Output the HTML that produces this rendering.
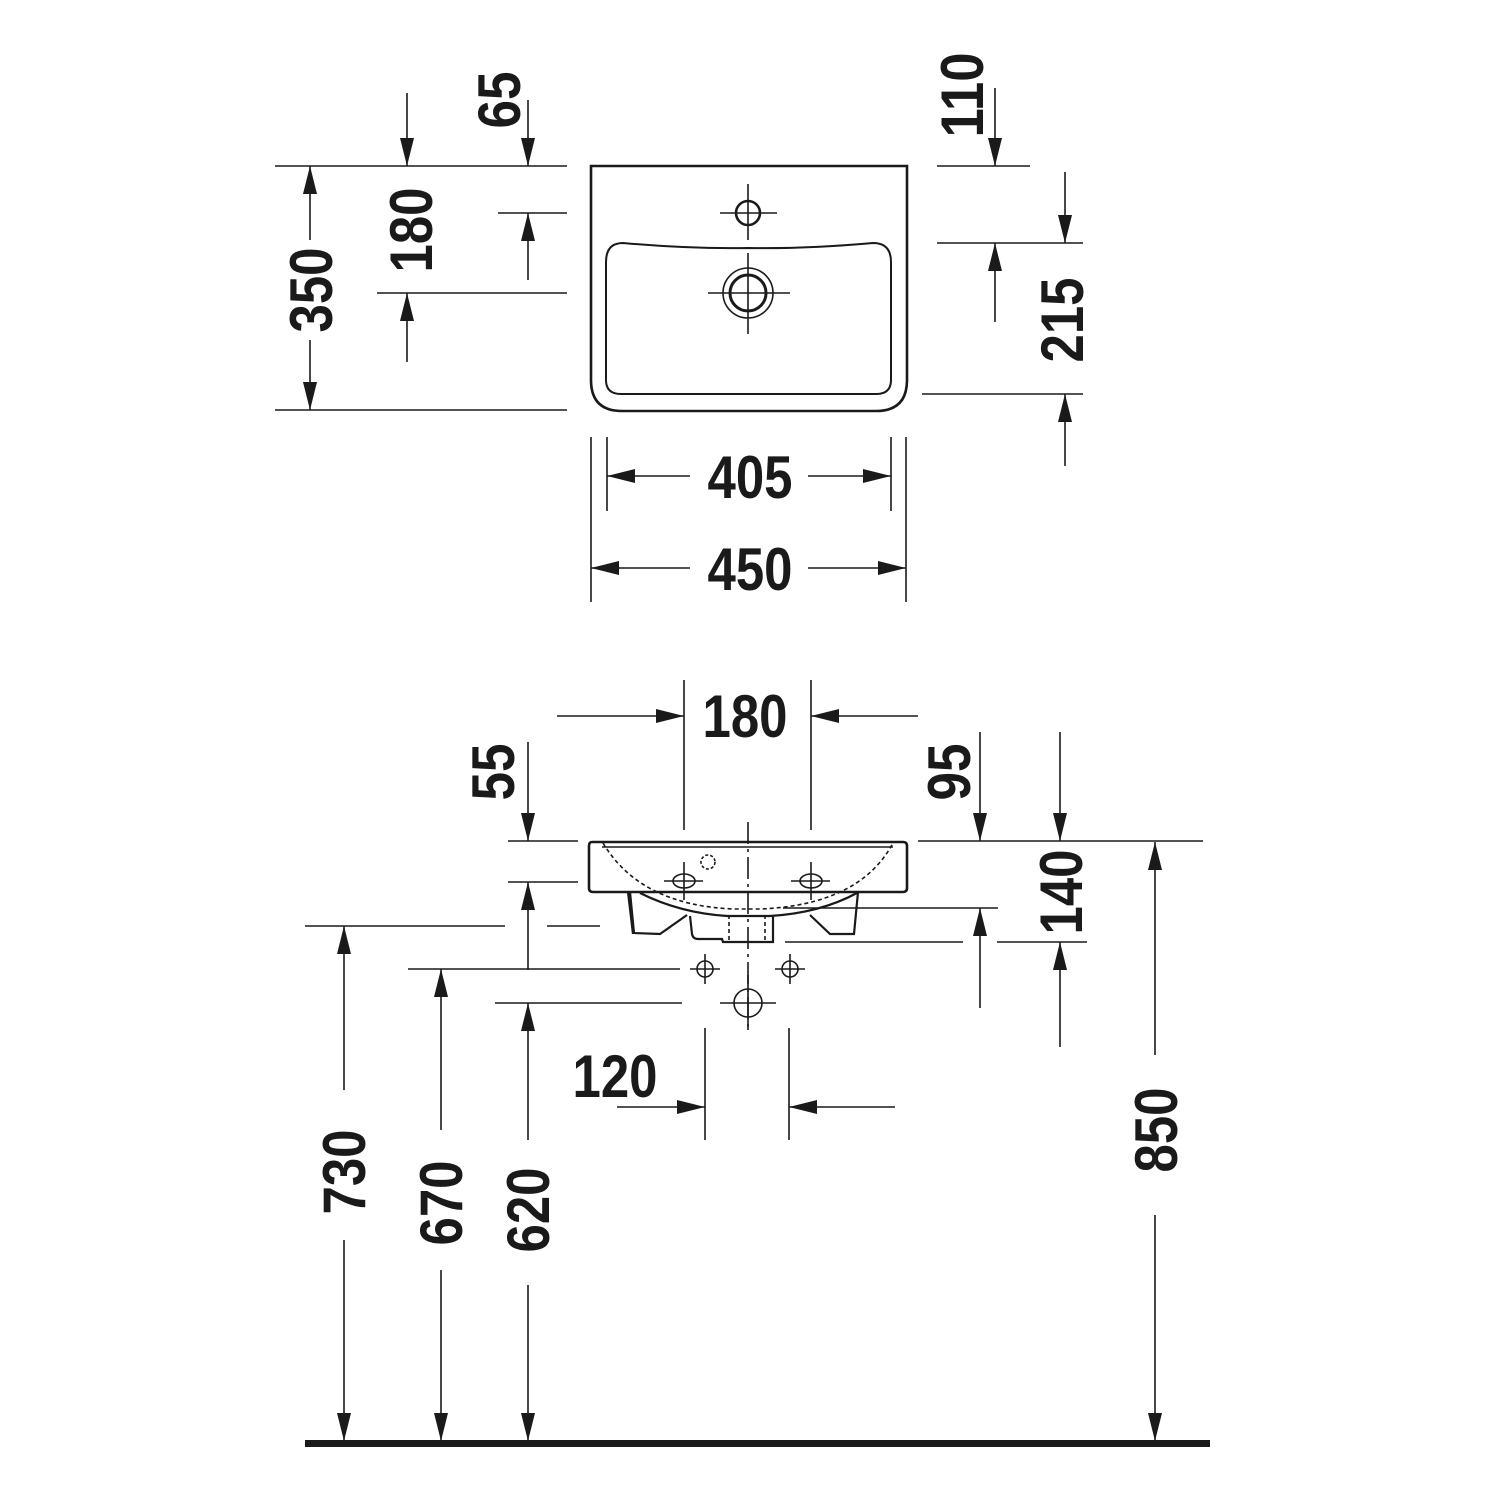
<!DOCTYPE html>
<html><head><meta charset="utf-8"><style>
html,body{margin:0;padding:0;background:#fff}
svg{display:block}
text{font-family:"Liberation Sans Narrow","Liberation Sans",sans-serif;font-weight:bold;font-size:60px;fill:#1a1a1a}
</style></head><body>
<svg width="1500" height="1500" viewBox="0 0 1500 1500" xmlns="http://www.w3.org/2000/svg">
<defs>
<marker id="a" markerUnits="userSpaceOnUse" markerWidth="30" markerHeight="16" refX="28" refY="7" orient="auto"><path d="M0,0 L28,7 L0,14 Z" fill="#1a1a1a"/></marker>
</defs>
<g stroke="#1a1a1a" stroke-width="1.6" fill="none">
<path d="M591,166 L907,166 L907,380 Q907,411 876,411 L622,411 Q591,411 591,380 Z" stroke-width="2.6"/>
<path d="M623,243 Q690,249 748,248 Q806,249 873,243 Q891,243 891,262 L891,380 Q891,394 876,394 L621,394 Q606,394 606,380 L606,262 Q606,243 623,243 Z" stroke-width="2"/>
<circle cx="748" cy="213" r="12" stroke-width="2.6"/>
<line x1="720" y1="213" x2="777" y2="213"/><line x1="748" y1="184" x2="748" y2="240"/>
<circle cx="748" cy="293" r="25"/><circle cx="748" cy="293" r="18" stroke-width="3"/>
<line x1="708" y1="293" x2="790" y2="293"/><line x1="748" y1="253" x2="748" y2="334"/>
<line x1="275" y1="166" x2="567" y2="166"/><line x1="275" y1="410" x2="567" y2="410"/>
<line x1="310" y1="240" x2="310" y2="166" marker-end="url(#a)"/>
<line x1="310" y1="340" x2="310" y2="410" marker-end="url(#a)"/>
<line x1="407" y1="93" x2="407" y2="166" marker-end="url(#a)"/>
<line x1="377" y1="293" x2="567" y2="293"/>
<line x1="407" y1="362" x2="407" y2="293" marker-end="url(#a)"/>
<line x1="528" y1="100" x2="528" y2="166" marker-end="url(#a)"/>
<line x1="498" y1="213" x2="567" y2="213"/>
<line x1="528" y1="280" x2="528" y2="213" marker-end="url(#a)"/>
<line x1="995" y1="88" x2="995" y2="166" marker-end="url(#a)"/>
<line x1="937" y1="166" x2="1030" y2="166"/>
<line x1="937" y1="243" x2="1083" y2="243"/>
<line x1="1065" y1="172" x2="1065" y2="243" marker-end="url(#a)"/>
<line x1="995" y1="322" x2="995" y2="243" marker-end="url(#a)"/>
<line x1="922" y1="394" x2="1083" y2="394"/>
<line x1="1065" y1="466" x2="1065" y2="394" marker-end="url(#a)"/>
<line x1="607" y1="437" x2="607" y2="511"/><line x1="891" y1="437" x2="891" y2="511"/>
<line x1="690" y1="476" x2="607" y2="476" marker-end="url(#a)"/>
<line x1="808" y1="476" x2="891" y2="476" marker-end="url(#a)"/>
<line x1="591" y1="437" x2="591" y2="602"/><line x1="906" y1="437" x2="906" y2="602"/>
<line x1="690" y1="568" x2="591" y2="568" marker-end="url(#a)"/>
<line x1="808" y1="568" x2="906" y2="568" marker-end="url(#a)"/>

<path d="M592,842 L903,842 Q907,842 907,846 L907,888 Q907,892 903,892 L593,892 Q589,892 589,888 L589,846 Q589,842 592,842 Z" stroke-width="2.6"/>
<line x1="602" y1="847" x2="893" y2="847"/>
<path d="M603,843 Q640,905 733,909 L760,909 Q860,905 893,843" stroke-dasharray="4,3"/>
<path d="M630,892 L634,933 L660,934 L687,915 M640,893 Q680,913 727,916 L770,916 Q820,913 857,893 M628,892 L633,934 M858,892 L854,934 L830,934 L810,915 M690,916 L692,934 Q693,939 698,939 L722,939 L723,942 L773,942 L773,916" stroke-width="2.2"/>
<line x1="729" y1="915" x2="729" y2="942" stroke-dasharray="4,3"/>
<line x1="765" y1="915" x2="765" y2="942" stroke-dasharray="4,3"/>
<line x1="748" y1="822" x2="748" y2="1030" stroke-dasharray="22,5,3,5"/>
<circle cx="708" cy="862" r="7" stroke-dasharray="3,2"/>
<ellipse cx="684" cy="881" rx="11" ry="7"/><line x1="664" y1="881" x2="703" y2="881"/><line x1="684" y1="862" x2="684" y2="900"/>
<ellipse cx="811" cy="881" rx="11" ry="7"/><line x1="791" y1="881" x2="830" y2="881"/><line x1="811" y1="862" x2="811" y2="900"/>
<circle cx="705" cy="969" r="8"/><line x1="690" y1="969" x2="720" y2="969"/><line x1="705" y1="954" x2="705" y2="984"/>
<circle cx="790" cy="969" r="8"/><line x1="775" y1="969" x2="805" y2="969"/><line x1="790" y1="954" x2="790" y2="984"/>
<circle cx="748" cy="1003" r="14"/><line x1="720" y1="1003" x2="776" y2="1003"/><line x1="748" y1="975" x2="748" y2="1030"/>
<line x1="684" y1="680" x2="684" y2="830"/><line x1="811" y1="680" x2="811" y2="830"/>
<line x1="557" y1="716" x2="684" y2="716" marker-end="url(#a)"/>
<line x1="918" y1="716" x2="811" y2="716" marker-end="url(#a)"/>
<line x1="528" y1="742" x2="528" y2="841" marker-end="url(#a)"/>
<line x1="508" y1="841" x2="578" y2="841"/><line x1="508" y1="882" x2="578" y2="882"/>
<line x1="528" y1="970" x2="528" y2="882" marker-end="url(#a)"/>
<line x1="980" y1="732" x2="980" y2="841" marker-end="url(#a)"/>
<line x1="1060" y1="732" x2="1060" y2="841" marker-end="url(#a)"/>
<line x1="918" y1="841" x2="1203" y2="841"/>
<line x1="783" y1="908" x2="998" y2="908"/>
<line x1="980" y1="1008" x2="980" y2="908" marker-end="url(#a)"/>
<line x1="785" y1="942" x2="963" y2="942"/><line x1="997" y1="942" x2="1087" y2="942"/>
<line x1="1060" y1="1047" x2="1060" y2="942" marker-end="url(#a)"/>
<line x1="1155" y1="1055" x2="1155" y2="842" marker-end="url(#a)"/>
<line x1="1155" y1="1215" x2="1155" y2="1441" marker-end="url(#a)"/>
<line x1="305" y1="926" x2="505" y2="926"/><line x1="547" y1="926" x2="600" y2="926"/>
<line x1="344" y1="1090" x2="344" y2="926" marker-end="url(#a)"/>
<line x1="344" y1="1240" x2="344" y2="1441" marker-end="url(#a)"/>
<line x1="408" y1="969" x2="680" y2="969"/>
<line x1="441" y1="1130" x2="441" y2="969" marker-end="url(#a)"/>
<line x1="441" y1="1270" x2="441" y2="1441" marker-end="url(#a)"/>
<line x1="495" y1="1003" x2="682" y2="1003"/>
<line x1="528" y1="1140" x2="528" y2="1003" marker-end="url(#a)"/>
<line x1="528" y1="1285" x2="528" y2="1441" marker-end="url(#a)"/>
<line x1="705" y1="1028" x2="705" y2="1140"/><line x1="789" y1="1028" x2="789" y2="1140"/>
<line x1="617" y1="1107" x2="705" y2="1107" marker-end="url(#a)"/>
<line x1="895" y1="1107" x2="789" y2="1107" marker-end="url(#a)"/>
</g>
<rect x="305" y="1440" width="905" height="7" fill="#1a1a1a"/>
<g text-anchor="middle" lengthAdjust="spacingAndGlyphs">
<text x="750" y="498" textLength="85" lengthAdjust="spacingAndGlyphs">405</text>
<text x="750" y="590" textLength="85" lengthAdjust="spacingAndGlyphs">450</text>
<text x="745" y="737" textLength="85" lengthAdjust="spacingAndGlyphs">180</text>
<text x="615" y="1097" textLength="85" lengthAdjust="spacingAndGlyphs">120</text>
<text transform="translate(332,290) rotate(-90)" textLength="85" lengthAdjust="spacingAndGlyphs">350</text>
<text transform="translate(432,230) rotate(-90)" textLength="85" lengthAdjust="spacingAndGlyphs">180</text>
<text transform="translate(520,100) rotate(-90)" textLength="57" lengthAdjust="spacingAndGlyphs">65</text>
<text transform="translate(983,95) rotate(-90)" textLength="85" lengthAdjust="spacingAndGlyphs">110</text>
<text transform="translate(1083,320) rotate(-90)" textLength="85" lengthAdjust="spacingAndGlyphs">215</text>
<text transform="translate(514,772) rotate(-90)" textLength="57" lengthAdjust="spacingAndGlyphs">55</text>
<text transform="translate(970,772) rotate(-90)" textLength="57" lengthAdjust="spacingAndGlyphs">95</text>
<text transform="translate(1082,892) rotate(-90)" textLength="85" lengthAdjust="spacingAndGlyphs">140</text>
<text transform="translate(365,1172) rotate(-90)" textLength="85" lengthAdjust="spacingAndGlyphs">730</text>
<text transform="translate(462,1203) rotate(-90)" textLength="85" lengthAdjust="spacingAndGlyphs">670</text>
<text transform="translate(549,1210) rotate(-90)" textLength="85" lengthAdjust="spacingAndGlyphs">620</text>
<text transform="translate(1177,1130) rotate(-90)" textLength="85" lengthAdjust="spacingAndGlyphs">850</text>
</g>
</svg>
</body></html>
